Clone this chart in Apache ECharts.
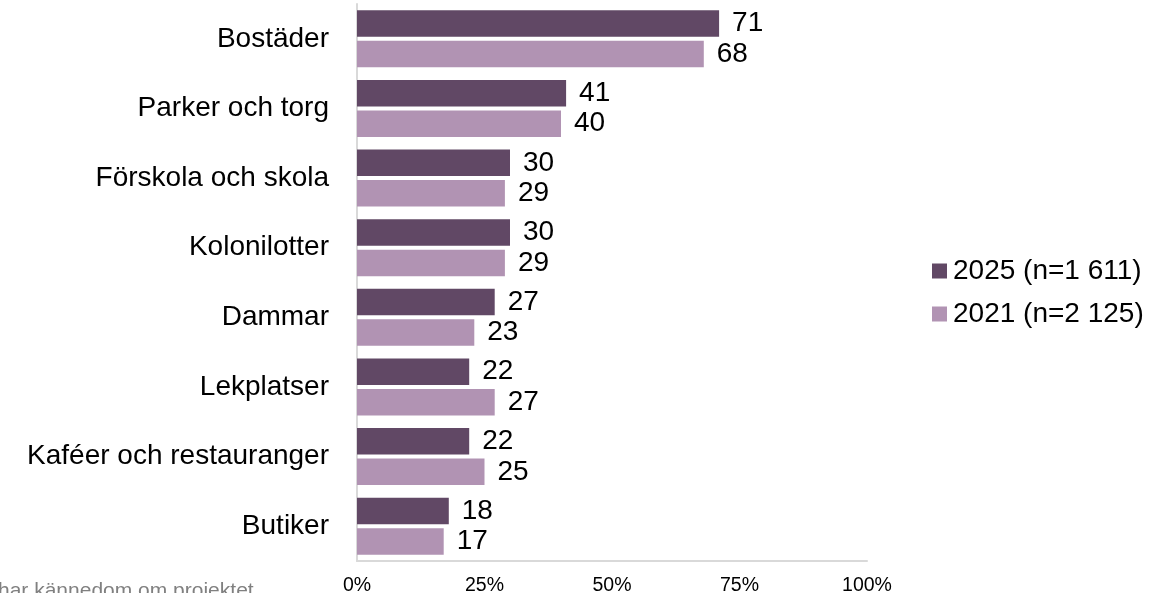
<!DOCTYPE html>
<html>
<head>
<meta charset="utf-8">
<script src="https://cdn.jsdelivr.net/npm/echarts@6/dist/echarts.min.js"></script>
<style>
html,body{margin:0;padding:0;background:#fff;}
#chart{width:1153px;height:593px;}
</style>
</head>
<body>
<div id="chart"></div>
<script>
const categories = ['Bostäder','Parker och torg','Förskola och skola','Kolonilotter','Dammar','Lekplatser','Kaféer och restauranger','Butiker'];
const series2025 = [71,41,30,30,27,22,22,18];
const series2021 = [68,40,29,29,23,27,25,17];
const seriesNames = ['2025 (n=1 611)','2021 (n=2 125)'];
const xTicks = [0,25,50,75,100];
const footnote = 'har kännedom om projektet';

const FONT = 'Liberation Sans, Arial, sans-serif';
const chart = echarts.init(document.getElementById('chart'));
const labelCfg = {show:true, position:'right', distance:13, fontSize:28, color:'#000', fontFamily:FONT};
chart.setOption({
  animation:false,
  textStyle:{fontFamily:FONT},
  grid:{left:357, right:286, top:4, bottom:32, containLabel:false, outerBoundsMode:'none'},
  legend:{
    orient:'vertical', left:927, top:252, itemWidth:15, itemHeight:15, itemGap:15,
    icon:'rect',
    textStyle:{fontSize:28, color:'#000', fontFamily:FONT, padding:[0,0,0,1]},
    data:seriesNames
  },
  xAxis:{
    type:'value', min:0, max:100, interval:25,
    splitLine:{show:false},
    axisLine:{show:true, lineStyle:{color:'#d9d9d9', width:2}},
    axisTick:{show:false},
    axisLabel:{fontSize:19.5, color:'#000', margin:15, fontFamily:FONT,
      formatter:function(v){return xTicks.indexOf(v)>=0 ? v+'%' : '';}}
  },
  yAxis:{
    type:'category', data:categories, inverse:true,
    axisLine:{show:true, lineStyle:{color:'#d9d9d9', width:2}},
    axisTick:{show:false},
    axisLabel:{fontSize:28, color:'#000', margin:28, fontFamily:FONT}
  },
  series:[
    {name:seriesNames[0], type:'bar', data:series2025, barCategoryGap:'18%', barGap:'15%',
     itemStyle:{color:'#614865'}, label:labelCfg},
    {name:seriesNames[1], type:'bar', data:series2021, barCategoryGap:'18%', barGap:'15%',
     itemStyle:{color:'#b193b3'}, label:labelCfg}
  ],
  graphic:[{type:'text', left:-2, top:581, style:{text:footnote, fontSize:21, fill:'#808080', fontFamily:FONT}}]
});
</script>
</body>
</html>
